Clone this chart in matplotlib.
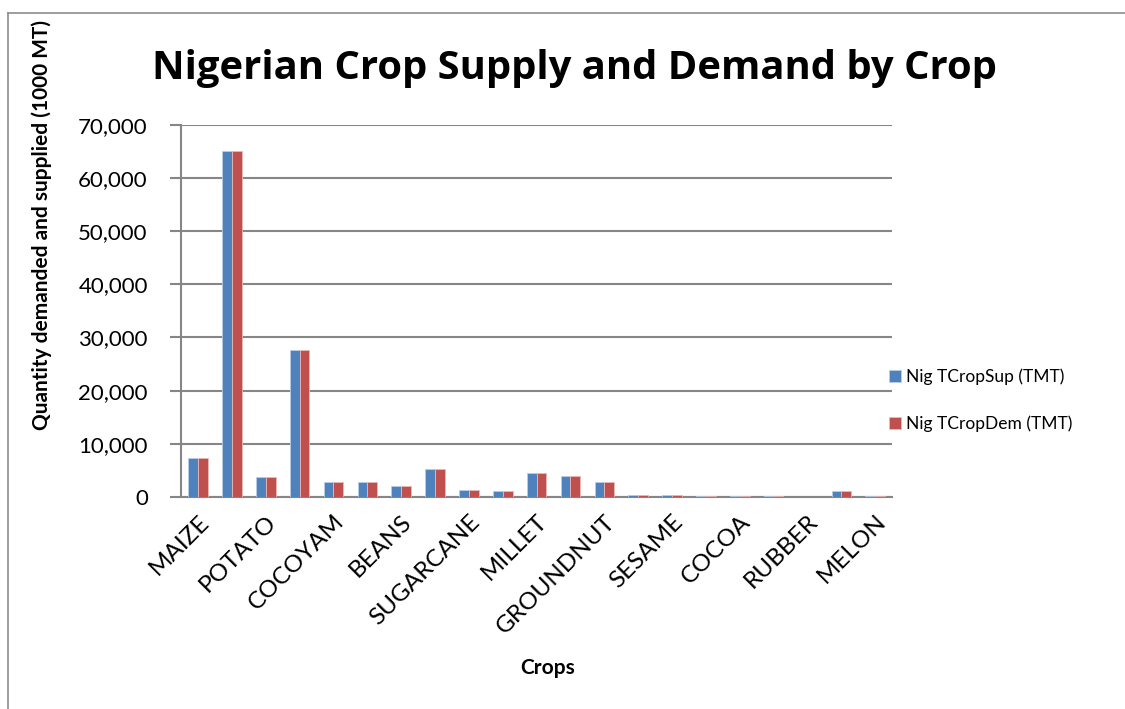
import matplotlib
matplotlib.use('Agg')
import matplotlib.pyplot as plt
from matplotlib.lines import Line2D
from matplotlib.ticker import FuncFormatter
import numpy as np

# Crop groups (every other one carries a label on the axis)
tick_labels = ['MAIZE', 'POTATO', 'COCOYAM', 'BEANS', 'SUGARCANE', 'MILLET',
               'GROUNDNUT', 'SESAME', 'COCOA', 'RUBBER', 'MELON']

# Quantities in 1000 MT, one value per crop group (21 groups)
supply = [7300, 65000, 3700, 27600, 2750, 2800, 2000, 5200, 1300, 1200,
          4500, 3900, 2800, 450, 300, 250, 250, 150, 50, 1050, 250]
demand = [7300, 65000, 3700, 27600, 2750, 2800, 2000, 5200, 1300, 1200,
          4500, 3900, 2800, 450, 300, 250, 250, 150, 50, 1050, 250]

series_names = ['Nig TCropSup (TMT)', 'Nig TCropDem (TMT)']
colors = ['#4F81BD', '#C0504D']
edges = ['#B9CDE5', '#E6B9B8']
grid_col = '#868686'

plt.rcParams['font.family'] = ['Lato', 'DejaVu Sans']

fig = plt.figure(figsize=(11.25, 7.09), dpi=100, facecolor='white')
ax = fig.add_axes([0.161, 0.299, 0.632, 0.525])

# chart frame: top and left edges
top_y = 1 - 13 / 709
left_x = 8 / 1125
fig.lines.append(Line2D([left_x, 1.0], [top_y, top_y], transform=fig.transFigure,
                        color='#8C8C8C', linewidth=1.2))
fig.lines.append(Line2D([left_x, left_x], [0.0, top_y], transform=fig.transFigure,
                        color='#8C8C8C', linewidth=1.2))

x = np.arange(len(supply))
w = 0.29
ax.bar(x - w / 2, supply, w, color=colors[0], edgecolor=edges[0],
       linewidth=0.6, label=series_names[0], zorder=3)
ax.bar(x + w / 2, demand, w, color=colors[1], edgecolor=edges[1],
       linewidth=0.6, label=series_names[1], zorder=3)

ax.set_xlim(-0.5, len(supply) - 0.5)
ax.set_ylim(0, 70000)
ax.set_yticks(np.arange(0, 70001, 10000))
ax.yaxis.set_major_formatter(FuncFormatter(lambda v, p: f'{int(v):,}'))
ax.grid(axis='y', color=grid_col, linewidth=1.5, zorder=0)
ax.set_axisbelow(True)

ax.set_xticks(x[::2])
ax.set_xticklabels(tick_labels, rotation=45, ha='right', va='top',
                   rotation_mode='anchor', fontsize=17.5)
ax.tick_params(axis='x', length=0, pad=10)
ax.tick_params(axis='y', length=8, width=1.5, color=grid_col,
               labelsize=16, pad=16)

for s in ['top', 'right']:
    ax.spines[s].set_visible(False)
ax.spines['left'].set_color(grid_col)
ax.spines['left'].set_linewidth(1.5)
ax.spines['bottom'].set_color(grid_col)
ax.spines['bottom'].set_linewidth(1.5)

fig.text(0.511, 1 - 79 / 709, 'Nigerian Crop Supply and Demand by Crop',
         ha='center', va='baseline', fontsize=28.8, fontweight='bold',
         family=['Open Sans', 'DejaVu Sans'])
fig.text(0.037, 0.683, 'Quantity demanded and supplied (1000 MT)',
         ha='center', va='center', rotation=90, fontsize=15, fontweight='bold')
fig.text(0.487, 0.058, 'Crops', ha='center', va='center',
         fontsize=15, fontweight='bold')

fig.legend(loc='center left', bbox_to_anchor=(0.776, 0.435), frameon=False,
           fontsize=12.5, handlelength=0.7, handleheight=0.7,
           handletextpad=0.3, labelspacing=1.75)

fig.savefig('out.png', dpi=100, facecolor='white')
